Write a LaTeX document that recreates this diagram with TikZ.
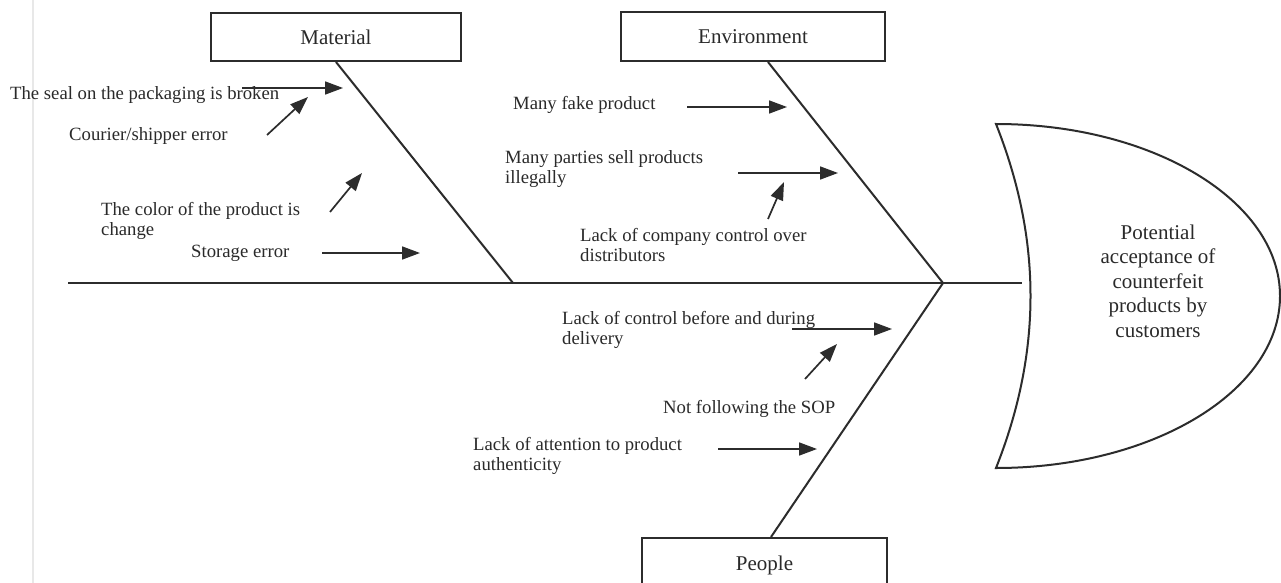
\documentclass[tikz,border=0pt]{standalone}
\usepackage{fontspec}
\setmainfont{Liberation Serif}
\usetikzlibrary{arrows.meta}
\definecolor{ink}{HTML}{2C2C2C}
\definecolor{txt}{HTML}{2A2A2A}
\begin{document}
\begin{tikzpicture}[x=1pt,y=-1pt,
  bone/.style={draw=ink, line width=2pt},
  cause/.style={draw=ink, line width=1.7pt, -{Triangle[length=18pt,width=13pt]}},
  lbl/.style={font=\fontsize{18.7}{20.5}\selectfont, text=txt, inner sep=0pt, align=left},
  catbox/.style={draw=ink, line width=2pt, inner sep=0pt, font=\fontsize{21}{25}\selectfont, text=txt},
  headtxt/.style={font=\fontsize{21}{24.5}\selectfont, text=txt, inner sep=0pt, align=center}]
\clip (0,0) rectangle (1281,583);
\fill[white] (0,0) rectangle (1281,583);
% faint page margin line
\draw[gray!18, line width=1.5pt] (33,0) -- (33,583);

% category boxes
\node[catbox, minimum width=250pt, minimum height=48pt] (mat) at (336,37) {Material};
\node[catbox, minimum width=264pt, minimum height=49pt] (env) at (753,36.5) {Environment};
\node[catbox, minimum width=245pt, minimum height=54pt] (ppl) at (764.5,565) {People};

% spine and head
\coordinate (tail) at (68,283);
\coordinate (spend) at (1022,283);
\coordinate (j1) at (513,283);
\coordinate (j2) at (943,283);
\draw[bone] (tail) -- (spend);
\draw[bone] (mat.south) -- (j1);
\draw[bone] ([xshift=15pt]env.south) -- (j2);
\draw[bone] (j2) -- ([xshift=6.5pt]ppl.north);

\coordinate (ht) at (996,124);
\coordinate (hb) at (996,468);
\coordinate (hr) at (1280,296);
\draw[bone] (ht) .. controls (1042,240) and (1042,352) .. (hb)
  .. controls (1153,468) and (1280,391) .. (hr)
  .. controls (1280,201) and (1153,124) .. (ht) -- cycle;
\node[headtxt] (effect) at (1158,281) {Potential\\acceptance of\\counterfeit\\products by\\customers};

% Material causes
\node[lbl, anchor=base west] (m1) at (10,100) {The seal on the packaging is broken};
\node[lbl, anchor=base west] (m2) at (69,140) {Courier/shipper error};
\node[lbl, anchor=north west] (m3) at (101,202) {The color of the product is\\change};
\node[lbl, anchor=base west] (m4) at (191,257) {Storage error};
\coordinate (a1s) at (242,88);  \coordinate (a1e) at (343,88);
\coordinate (a2s) at (267,135); \coordinate (a2e) at (308,97);
\coordinate (a3s) at (330,212); \coordinate (a3e) at (362,173);
\coordinate (a4s) at (322,253); \coordinate (a4e) at (420,253);
\draw[cause] (a1s) -- (a1e);
\draw[cause] (a2s) -- (a2e);
\draw[cause] (a3s) -- (a3e);
\draw[cause] (a4s) -- (a4e);

% Environment causes
\node[lbl, anchor=base west] (e1) at (513,110) {Many fake product};
\node[lbl, anchor=north west] (e2) at (505,150) {Many parties sell products\\illegally};
\node[lbl, anchor=north west] (e3) at (580,228) {Lack of company control over\\distributors};
\coordinate (a5s) at (687,107); \coordinate (a5e) at (787,107);
\coordinate (a6s) at (738,173); \coordinate (a6e) at (838,173);
\coordinate (a7s) at (768,219); \coordinate (a7e) at (784,182);
\draw[cause] (a5s) -- (a5e);
\draw[cause] (a6s) -- (a6e);
\draw[cause] (a7s) -- (a7e);

% People causes
\node[lbl, anchor=north west] (p1) at (562,311) {Lack of control before and during\\delivery};
\node[lbl, anchor=base west] (p2) at (663,413) {Not following the SOP};
\node[lbl, anchor=north west] (p3) at (473,437) {Lack of attention to product\\authenticity};
\coordinate (a8s) at (792,329); \coordinate (a8e) at (892,329);
\coordinate (a9s) at (805,379); \coordinate (a9e) at (837,344);
\coordinate (a10s) at (718,449); \coordinate (a10e) at (817,449);
\draw[cause] (a8s) -- (a8e);
\draw[cause] (a9s) -- (a9e);
\draw[cause] (a10s) -- (a10e);
\end{tikzpicture}
\end{document}
